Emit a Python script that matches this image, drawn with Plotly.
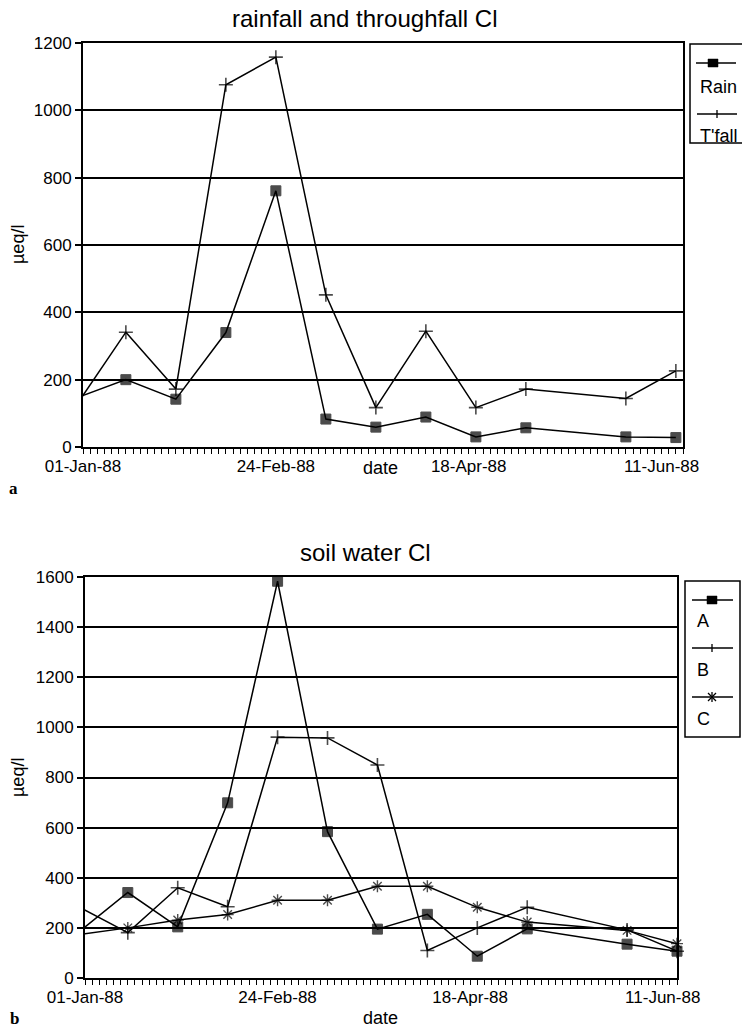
import plotly.graph_objects as go

# ---------------- data ----------------
dates = ["1987-12-30", "1988-01-13", "1988-01-27", "1988-02-10", "1988-02-24", "1988-03-09",
         "1988-03-23", "1988-04-06", "1988-04-20", "1988-05-04", "1988-06-01", "1988-06-15"]
rain = [145, 200, 142, 340, 761, 83, 59, 89, 30, 57, 30, 28]
tfall = [122, 341, 172, 1076, 1158, 452, 117, 344, 117, 172, 144, 226]
soil_a = [181, 341, 204, 699, 1583, 584, 195, 254, 87, 196, 135, 107]
soil_b = [286, 181, 360, 284, 961, 958, 850, 110, 200, 282, 192, 107]
soil_c = [173, 200, 231, 253, 310, 310, 366, 366, 282, 223, 190, 137]

top_title = "rainfall and throughfall Cl"
bottom_title = "soil water Cl"
y_title = "µeq/l"
x_title = "date"
tick_start = "1988-01-01"
tick_step_days = 54
minor_step_days = 2

# ---------------- helpers ----------------
W, H = 742, 1029
DAY = 86400000
FONT = "Liberation Sans, Arial, sans-serif"


def px(x):
    return x / W


def py(y):
    return 1 - y / H


def sizes(n, s):
    return [0] + [s] * (n - 1)


fig = go.Figure()

line_style = dict(color="black", width=1.5)


def add_series(xa, ya, name, values, symbol, size, lw):
    fig.add_trace(go.Scatter(
        x=dates, y=values, name=name, mode="lines+markers",
        xaxis=xa, yaxis=ya, line=line_style, cliponaxis=False,
        marker=dict(symbol=symbol, size=sizes(len(values), size), color="black",
                    line=dict(color="black", width=lw)),
        showlegend=False))


add_series("x", "y", "Rain", rain, "square", 10, 1)
add_series("x", "y", "T'fall", tfall, "cross-thin", 10, 1.6)
add_series("x2", "y2", "A", soil_a, "square", 10, 1)
add_series("x2", "y2", "B", soil_b, "cross-thin", 10, 1.6)
add_series("x2", "y2", "C", soil_c, "asterisk", 10, 1.4)

tickfont = dict(family=FONT, size=17, color="black")


def xaxis(dom, rng, anchor):
    return dict(
        domain=dom, anchor=anchor, type="date", range=rng, automargin=False,
        tickformat="%d-%b-%y", tick0=tick_start, dtick=tick_step_days * DAY,
        ticks="outside", ticklen=5, tickwidth=1.3, tickcolor="black",
        ticklabelstandoff=-2,
        showline=True, linewidth=2, linecolor="black", mirror=True,
        showgrid=False, zeroline=False, tickfont=tickfont,
        minor=dict(ticks="outside", ticklen=5, tickwidth=1.3, tickcolor="black",
                   tick0=tick_start, dtick=minor_step_days * DAY, showgrid=False),
    )


def yaxis(dom, rng, anchor):
    return dict(
        domain=dom, anchor=anchor, range=rng, dtick=200, automargin=False,
        ticks="outside", ticklen=6, tickwidth=1.5, tickcolor="black",
        showline=True, linewidth=2, linecolor="black", mirror=True,
        showgrid=True, gridcolor="black", gridwidth=1.6, zeroline=False,
        tickfont=tickfont,
    )


shapes = []
annotations = []


def text(x, y, s, size, xanchor="center", yanchor="middle", angle=0, family=FONT, bold=False):
    annotations.append(dict(
        x=px(x), y=py(y), xref="paper", yref="paper", text=("<b>%s</b>" % s) if bold else s,
        showarrow=False, xanchor=xanchor, yanchor=yanchor, textangle=angle,
        font=dict(family=family, size=size, color="black")))


def seg(x0, y0, x1, y1, w=1.4):
    shapes.append(dict(type="line", xref="paper", yref="paper",
                       x0=px(x0), y0=py(y0), x1=px(x1), y1=py(y1),
                       line=dict(color="black", width=w)))


def box(x0, y0, x1, y1, fill=None, w=1.5):
    shapes.append(dict(type="rect", xref="paper", yref="paper",
                       x0=px(x0), y0=py(y0), x1=px(x1), y1=py(y1),
                       line=dict(color="black", width=w),
                       fillcolor=fill if fill else "rgba(0,0,0,0)"))


# titles and labels
text(365, 19, top_title, 24)
text(365, 552, bottom_title, 24)
text(18, 245, y_title, 18, angle=-90)
text(18, 778, y_title, 18, angle=-90)
text(380, 468, x_title, 18)
text(380, 1018, x_title, 18)
text(13, 488, "a", 17, family="Liberation Serif, Times New Roman, serif", bold=True)
text(14, 1018, "b", 17, family="Liberation Serif, Times New Roman, serif", bold=True)

# legend (top)
box(690, 44, 746, 143)
seg(696, 63, 736, 63)
box(708, 59, 718, 67, fill="black", w=0.5)
text(698, 87, "Rain", 18, xanchor="left")
seg(697, 114, 737, 114)
seg(717, 110, 717, 118, w=1.3)
text(698, 136, "T'fall", 18, xanchor="left")

# legend (bottom)
box(685, 581, 740, 737)
seg(692, 600, 733, 600)
box(707, 596, 717, 604, fill="black", w=0.5)
text(695, 621, "A", 18, xanchor="left")
seg(692, 648, 733, 648)
seg(712, 644, 712, 652, w=1.3)
text(695, 670, "B", 18, xanchor="left")
seg(692, 697, 733, 697)
seg(708, 693, 716, 701, w=1.3)
seg(708, 701, 716, 693, w=1.3)
seg(712, 692, 712, 702, w=1.3)
text(695, 719, "C", 18, xanchor="left")

fig.update_layout(
    width=W, height=H, autosize=False,
    margin=dict(l=0, r=0, t=0, b=0, pad=0, autoexpand=False),
    paper_bgcolor="white", plot_bgcolor="white", showlegend=False,
    font=dict(family=FONT, color="black"),
    xaxis=xaxis([px(83), px(683)], ["1988-01-01", "1988-06-17"], "y"),
    yaxis=yaxis([py(447), py(43)], [0, 1200], "x"),
    xaxis2=xaxis([px(85), px(677)], ["1988-01-01", "1988-06-15"], "y2"),
    yaxis2=yaxis([py(978), py(577)], [0, 1600], "x2"),
    shapes=shapes, annotations=annotations,
)

fig.write_html("out.html")
